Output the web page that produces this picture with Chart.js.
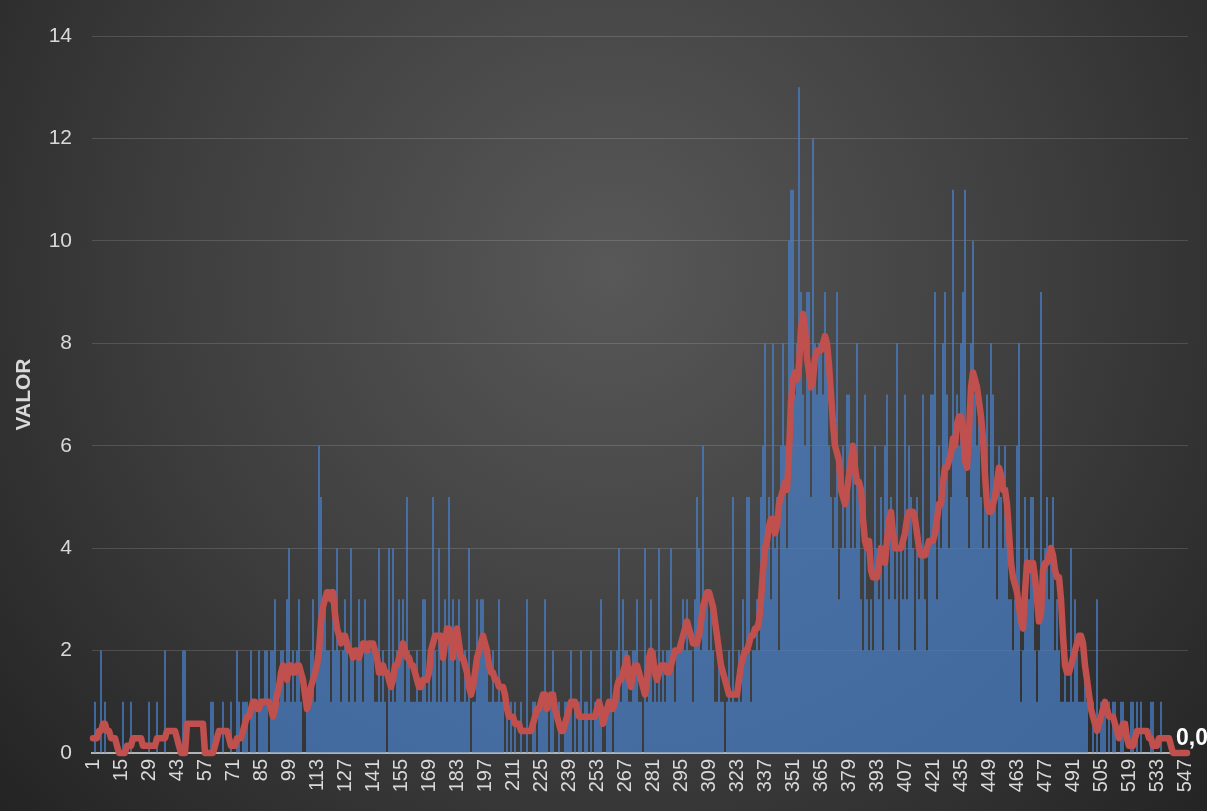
<!DOCTYPE html>
<html>
<head>
<meta charset="utf-8">
<script src="https://cdn.jsdelivr.net/npm/chart.js@4.4.1/dist/chart.umd.min.js"></script>
<style>
html,body{margin:0;padding:0;background:#2b2b2b;}
canvas{display:block;}
</style>
</head>
<body>
<canvas id="c" width="1207" height="811"></canvas>
<script>
// ---- DATA ----
const dailyValues = [
0,1,0,0,2,0,1,0,0,0,0,0,0,0,
0,1,0,0,0,1,0,0,0,0,0,0,0,0,
1,0,0,0,1,0,0,0,2,0,0,0,0,0,
0,0,0,2,2,0,0,0,0,0,0,0,0,0,
0,0,0,1,1,0,0,0,0,1,0,0,0,1,
0,0,2,1,0,1,1,1,0,2,1,1,0,2,
1,1,2,2,0,2,2,3,1,1,2,2,1,3,
4,1,2,1,2,3,1,0,0,1,1,2,3,1,
2,6,5,3,3,2,2,1,3,2,4,2,1,2,
3,2,1,4,2,1,2,3,2,1,3,2,2,2,
2,1,1,4,1,2,1,0,4,1,4,1,2,3,
2,3,1,5,2,1,1,1,2,1,1,3,3,1,
2,1,5,2,1,4,1,2,3,1,5,2,3,1,
2,3,1,1,2,1,4,0,1,1,3,2,3,3,
2,2,1,1,2,1,1,3,1,1,0,1,0,1,
0,1,0,0,1,0,0,3,0,0,1,1,0,1,
1,1,3,1,0,1,2,0,0,1,0,0,1,1,
1,2,0,1,0,1,2,0,1,1,0,2,0,1,
1,1,3,0,0,1,1,2,0,1,2,4,1,3,
2,2,1,1,2,2,3,1,1,0,4,1,2,3,
1,2,1,4,1,2,1,2,2,4,2,1,2,2,
2,3,2,3,2,2,1,3,5,4,2,6,3,3,
2,3,2,1,1,2,1,1,0,1,2,1,5,1,
1,2,1,3,2,5,5,1,2,2,3,2,5,6,
8,4,5,3,8,4,5,2,6,8,6,4,10,11,
11,7,8,13,9,7,6,9,9,5,12,8,7,8,
8,7,9,8,6,5,4,5,9,3,4,6,4,7,
7,4,6,4,8,5,3,2,7,3,2,3,2,6,
4,3,5,2,6,7,3,5,4,3,8,2,4,3,
7,3,6,5,4,2,5,3,4,7,3,2,4,7,
7,9,3,6,4,8,9,7,4,5,11,6,7,6,
8,9,11,5,4,8,10,7,6,7,5,4,6,7,
4,8,7,5,3,6,5,4,6,5,3,3,2,3,
6,8,1,2,5,4,3,5,5,2,1,2,9,3,
4,5,3,4,5,2,3,2,1,1,2,1,1,4,
1,3,2,1,1,1,2,1,0,0,1,0,3,0,
1,1,1,0,1,0,1,1,0,0,1,1,0,0,
0,1,1,0,1,0,1,0,0,0,0,1,1,0,
0,0,1,0,0,0,0,0,0,0,0,0,0,0,
0,0
];

const movingAverage = [
0.29,0.29,0.29,0.43,0.43,0.57,0.57,0.43,0.43,0.29,0.29,0.29,0.14,0,
0,0,0,0.14,0.14,0.14,0.29,0.29,0.29,0.29,0.29,0.14,0.14,0.14,
0.14,0.14,0.14,0.14,0.29,0.29,0.29,0.29,0.29,0.43,0.43,0.43,0.43,0.43,
0.29,0.14,0,0,0,0.57,0.57,0.57,0.57,0.57,0.57,0.57,0.57,0.57,
0,0,0,0,0,0.14,0.29,0.43,0.43,0.43,0.43,0.43,0.29,0.14,
0.14,0.14,0.29,0.29,0.29,0.43,0.57,0.71,0.71,0.86,1.0,1.0,0.86,0.86,
1.0,1.0,1.0,1.0,1.0,0.86,0.71,0.86,1.14,1.29,1.57,1.71,1.57,1.43,
1.71,1.71,1.57,1.57,1.71,1.71,1.57,1.43,1.14,0.86,1.0,1.29,1.43,1.57,
1.71,2.0,2.57,2.86,3.0,3.14,3.14,3.0,3.14,2.71,2.43,2.29,2.14,2.29,
2.29,2.14,2.0,2.0,1.86,2.0,2.0,1.86,2.0,2.14,2.14,2.0,2.14,2.14,
2.14,2.0,1.86,1.57,1.57,1.71,1.57,1.57,1.43,1.29,1.43,1.71,1.71,1.86,
2.0,2.14,2.0,1.86,1.86,1.71,1.71,1.57,1.43,1.29,1.29,1.43,1.43,1.43,
1.57,2.0,2.14,2.29,2.29,2.29,2.29,1.86,2.14,2.43,2.43,2.29,1.86,2.29,
2.43,2.14,1.86,1.86,1.71,1.57,1.29,1.14,1.29,1.57,1.86,2.0,2.14,2.29,
2.14,2.0,1.71,1.57,1.57,1.43,1.43,1.29,1.29,1.29,1.14,0.86,0.71,0.71,
0.71,0.57,0.57,0.57,0.43,0.43,0.43,0.43,0.43,0.43,0.57,0.71,0.86,0.86,
1.0,1.14,1.14,0.86,1.0,1.14,1.14,0.86,0.71,0.57,0.43,0.43,0.57,0.71,
0.86,1.0,1.0,1.0,0.86,0.71,0.71,0.71,0.71,0.71,0.71,0.71,0.71,0.71,
0.86,1.0,0.86,0.57,0.71,0.86,1.0,0.86,0.86,1.0,1.29,1.43,1.43,1.57,
1.71,1.86,1.43,1.29,1.57,1.71,1.71,1.57,1.43,1.29,1.14,1.43,1.86,2.0,
1.86,1.57,1.43,1.57,1.71,1.71,1.71,1.57,1.57,1.71,1.86,2.0,2.0,2.0,
2.14,2.29,2.43,2.57,2.43,2.29,2.14,2.14,2.14,2.29,2.57,2.86,3.0,3.14,
3.14,3.0,2.86,2.57,2.29,2.0,1.71,1.57,1.43,1.29,1.14,1.14,1.14,1.14,
1.14,1.43,1.71,1.86,2.0,2.0,2.14,2.29,2.29,2.43,2.43,2.57,3.0,3.57,
4.0,4.14,4.43,4.57,4.57,4.29,4.43,4.86,5.0,5.14,5.29,5.14,5.86,6.86,
7.29,7.43,7.29,7.57,8.29,8.57,8.29,7.71,7.43,7.14,7.29,7.71,7.86,7.86,
7.86,8.0,8.14,8.0,7.57,7.0,6.43,6.0,5.86,5.71,5.14,5.0,4.86,5.14,
5.43,5.71,6.0,5.57,5.29,5.29,5.14,4.57,4.14,4.0,4.14,3.57,3.43,3.43,
3.43,3.71,4.0,3.86,3.71,4.14,4.57,4.71,4.29,4.0,4.0,4.0,4.0,4.14,
4.29,4.57,4.71,4.71,4.71,4.57,4.29,4.0,3.86,3.86,3.86,4.0,4.14,4.14,
4.14,4.29,4.57,4.86,4.86,5.29,5.57,5.57,5.71,5.86,6.14,6.0,6.43,6.57,
6.57,6.29,5.71,5.57,6.29,7.14,7.43,7.29,7.14,6.86,6.57,6.14,5.43,4.86,
4.71,4.71,4.86,5.0,5.29,5.57,5.43,5.14,5.14,4.86,4.29,3.71,3.43,3.29,
3.14,2.86,2.57,2.43,3.14,3.71,3.71,3.57,3.71,3.43,3.0,2.57,2.71,3.57,
3.71,3.71,3.86,4.0,3.86,3.57,3.43,3.43,3.0,2.29,1.71,1.57,1.57,1.71,
1.86,2.0,2.14,2.29,2.29,2.14,1.71,1.43,1.14,0.86,0.71,0.57,0.43,0.57,
0.71,0.86,1.0,0.86,0.71,0.71,0.71,0.57,0.43,0.29,0.43,0.57,0.57,0.29,
0.14,0.14,0.14,0.29,0.43,0.43,0.43,0.43,0.43,0.43,0.29,0.29,0.14,0.14,
0.14,0.29,0.29,0.29,0.29,0.29,0.29,0.14,0,0,0,0,0,0,
0,0
];

const categories = dailyValues.map((_, i) => String(i + 1));
const labelStep = 14;
const yTicks = [0, 2, 4, 6, 8, 10, 12, 14];
const axisTitle = 'VALOR';

// ---- PLUGINS ----
const bgPlugin = {
  id: 'bg',
  beforeDraw(chart) {
    const ctx = chart.ctx;
    const w = chart.width, h = chart.height;
    ctx.save();
    const g = ctx.createRadialGradient(610, 270, 0, 610, 270, 820);
    g.addColorStop(0, '#585858');
    g.addColorStop(0.55, '#3d3d3d');
    g.addColorStop(1, '#232323');
    ctx.fillStyle = g;
    ctx.fillRect(0, 0, w, h);
    ctx.restore();
  }
};

const lastLabelPlugin = {
  id: 'lastLabel',
  afterDatasetsDraw(chart) {
    const meta = chart.getDatasetMeta(0);
    const pts = meta.data;
    const p = pts[pts.length - 1];
    const v = movingAverage[movingAverage.length - 1];
    const ctx = chart.ctx;
    ctx.save();
    ctx.font = 'bold 23px "Liberation Sans", Arial, sans-serif';
    ctx.fillStyle = '#ffffff';
    ctx.textAlign = 'center';
    ctx.textBaseline = 'middle';
    ctx.fillText(v.toFixed(1).replace('.', ','), p.x + 5, p.y - 14);
    ctx.restore();
  }
};

const tickColor = '#d9d9d9';
const fontFam = '"Liberation Sans", Arial, sans-serif';

new Chart(document.getElementById('c'), {
  type: 'bar',
  data: {
    labels: categories,
    datasets: [
      {
        type: 'line',
        data: movingAverage,
        borderColor: '#c0504d',
        borderWidth: 6.5,
        pointRadius: 0,
        tension: 0,
        borderJoinStyle: 'round',
        borderCapStyle: 'round',
        fill: false,
        clip: 10,
        order: 0
      },
      {
        type: 'bar',
        data: dailyValues,
        backgroundColor: '#4a80c8',
        barPercentage: 0.72,
        categoryPercentage: 1.0,
        order: 1
      }
    ]
  },
  options: {
    responsive: false,
    animation: false,
    layout: { padding: { left: 0, top: 36, right: 19, bottom: 0 } },
    plugins: { legend: { display: false }, tooltip: { enabled: false } },
    scales: {
      x: {
        grid: { display: false, drawTicks: false },
        border: { display: true, color: '#b3b3b3', width: 2 },
        ticks: {
          autoSkip: false,
          minRotation: 90,
          maxRotation: 90,
          padding: 6,
          color: tickColor,
          font: { family: fontFam, size: 20 },
          callback: function (val, idx) {
            return idx % labelStep === 0 ? categories[idx] : '';
          }
        },
        afterFit(scale) {
          scale.height = 58;
          scale.paddingLeft = 0;
          scale.paddingRight = 0;
        }
      },
      y: {
        min: 0,
        max: 14,
        grid: { color: 'rgba(255,255,255,0.14)', lineWidth: 1, drawTicks: false },
        border: { display: false },
        afterBuildTicks(scale) { scale.ticks = yTicks.map(v => ({ value: v })); },
        ticks: {
          padding: 20,
          color: tickColor,
          font: { family: fontFam, size: 21 }
        },
        title: {
          display: true,
          text: axisTitle,
          color: tickColor,
          font: { family: fontFam, size: 21, weight: 'bold' },
          padding: { top: 12, bottom: 0 }
        },
        afterFit(scale) {
          scale.width = 92;
          scale.paddingTop = 0;
          scale.paddingBottom = 0;
        }
      }
    }
  },
  plugins: [bgPlugin, lastLabelPlugin]
});
</script>
</body>
</html>
